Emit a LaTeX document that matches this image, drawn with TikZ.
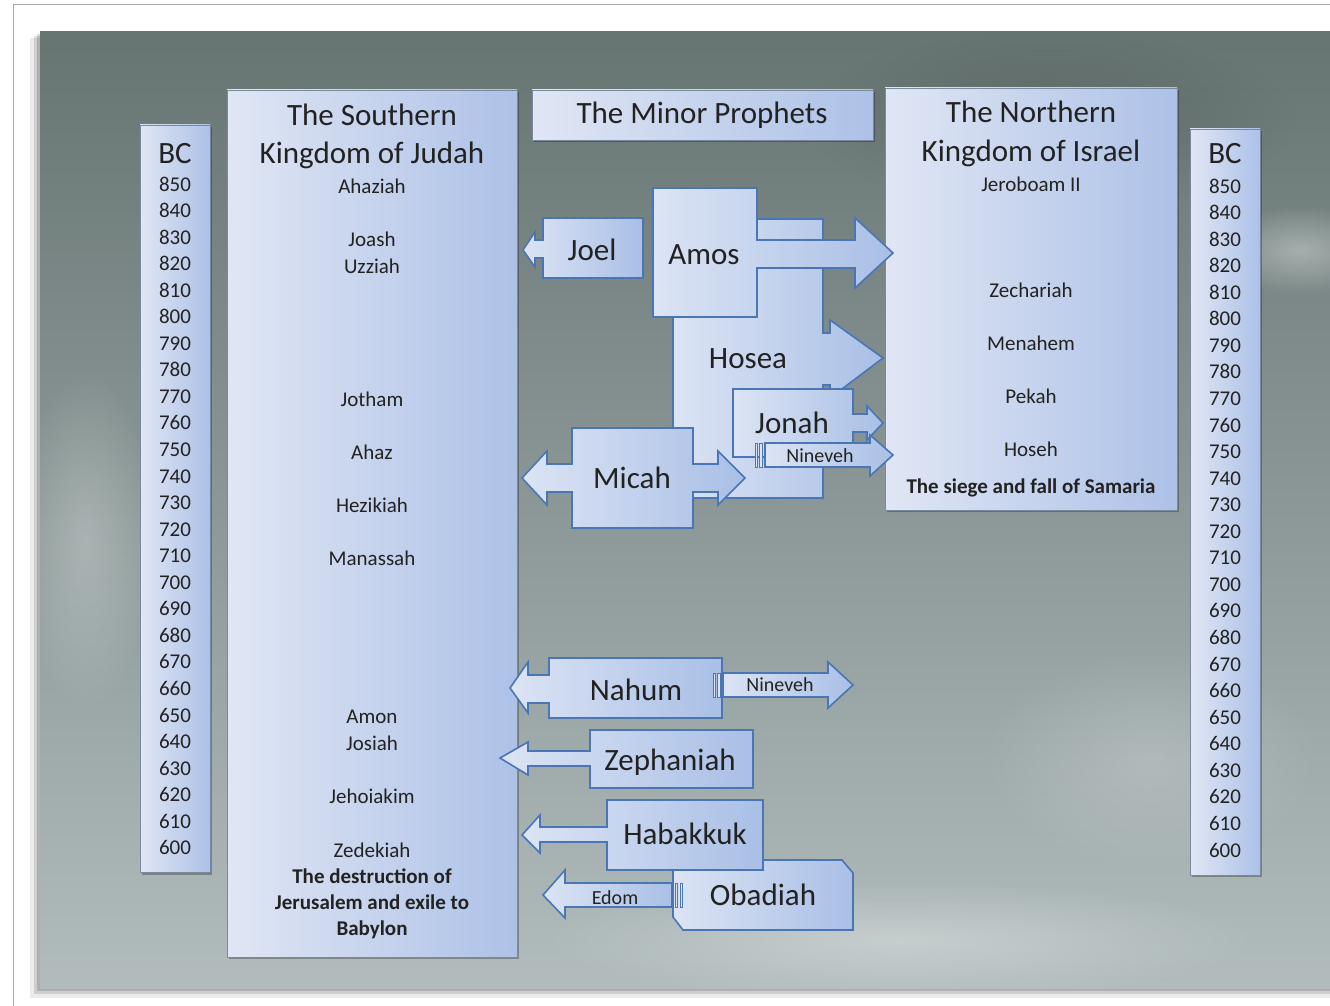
\documentclass[tikz,border=0pt]{standalone}
\usepackage{fontspec}
\setmainfont{Carlito}
\usetikzlibrary{fadings}
\tikzfading[name=softblob, inner color=transparent!0, outer color=transparent!100]
\definecolor{bgT}{HTML}{667472}
\definecolor{bgM}{HTML}{8F9B9B}
\definecolor{bgB}{HTML}{B2BCBD}
\definecolor{colL}{HTML}{E0E6F4}
\definecolor{colR}{HTML}{ADC1E7}
\definecolor{colB}{HTML}{7A8A9E}
\definecolor{callL}{HTML}{DCE4F4}
\definecolor{callR}{HTML}{A9BFE6}
\definecolor{callB}{HTML}{4A76B4}
\definecolor{txt}{HTML}{222222}
\begin{document}
\begin{tikzpicture}[x=1pt,y=-1pt,
  col/.style={draw=colB, line width=0.8pt, left color=colL, right color=colR},
  colshadow/.style={fill=black, opacity=0.28},
  call/.style={draw=callB, line width=1.6pt, line join=miter, left color=callL, right color=callR},
  stripe/.style={draw=callB, line width=0.9pt, fill=callL},
  big/.style={font=\fontsize{31}{36}\selectfont, text=txt, anchor=base, inner sep=0pt},
  nm/.style={font=\fontsize{21}{25}\selectfont, text=txt, anchor=base, inner sep=0pt},
  bnm/.style={font=\fontsize{21}{25}\selectfont\bfseries, text=txt, anchor=base, inner sep=0pt},
  sm/.style={font=\fontsize{20}{24}\selectfont, text=txt, anchor=base, inner sep=0pt}]
\useasboundingbox (0,0) rectangle (1330,1006);
\fill[white] (0,0) rectangle (1330,1006);
\draw[gray!70, line width=1pt] (13,1006) -- (13,5) -- (1330,5);
% slide shadow
\fill[black, opacity=0.08] (30,38) rectangle (1330,998);
\fill[black, opacity=0.12] (34,36) rectangle (1330,994);
\fill[black, opacity=0.15] (37,34) rectangle (1330,991);
% slide background
\shade[top color=bgT, middle color=bgM, bottom color=bgB] (40,32) rectangle (1330,988);
\begin{scope}
\clip (40,32) rectangle (1330,988);
\fill[white, opacity=0.35, path fading=softblob] (1300,250) ellipse (90 and 45);
\fill[white, opacity=0.25, path fading=softblob] (85,540) ellipse (70 and 170);
\fill[white, opacity=0.3, path fading=softblob] (900,940) ellipse (360 and 60);
\fill[white, opacity=0.18, path fading=softblob] (1150,760) ellipse (170 and 110);
\fill[black, opacity=0.12, path fading=softblob] (1050,120) ellipse (250 and 90);
\end{scope}

% columns
\fill[colshadow] (142,127) rectangle (212,875);
\path[col] (140,125) rectangle (210,872);
\fill[colshadow] (229,92) rectangle (519,959);
\path[col] (227,90) rectangle (517,957);
\fill[colshadow] (887,90) rectangle (1179,512);
\path[col] (885,88) rectangle (1177,510);
\fill[colshadow] (1192,131) rectangle (1262,877);
\path[col] (1190,129) rectangle (1260,875);
\fill[colshadow] (534,92) rectangle (875,142);
\path[col] (532,90) rectangle (873,140);

% BC columns text
\node[big] (bcL) at (175,163) {BC};
\foreach \i in {0,...,25}{
  \pgfmathtruncatemacro\yr{850-10*\i}
  \node[nm] (lY\i) at (175,{191+26.55*\i}) {\yr};
}
\node[big] (bcR) at (1225,163) {BC};
\foreach \i in {0,...,25}{
  \pgfmathtruncatemacro\yr{850-10*\i}
  \node[nm] (rY\i) at (1225,{193+26.56*\i}) {\yr};
}

% Southern kingdom
\node[big] (sT1) at (372,125) {The Southern};
\node[big] (sT2) at (372,163) {Kingdom of Judah};
\node[nm] (s1) at (372,193) {Ahaziah};
\node[nm] (s2) at (372,246) {Joash};
\node[nm] (s3) at (372,273) {Uzziah};
\node[nm] (s4) at (372,406) {Jotham};
\node[nm] (s5) at (372,459) {Ahaz};
\node[nm] (s6) at (372,512) {Hezikiah};
\node[nm] (s7) at (372,565) {Manassah};
\node[nm] (s8) at (372,723) {Amon};
\node[nm] (s9) at (372,750) {Josiah};
\node[nm] (s10) at (372,803) {Jehoiakim};
\node[nm] (s11) at (372,857) {Zedekiah};
\node[bnm] (s12) at (372,883) {The destruction of};
\node[bnm] (s13) at (372,909) {Jerusalem and exile to};
\node[bnm] (s14) at (372,935) {Babylon};

% Northern kingdom
\node[big] (nT1) at (1031,123) {The Northern};
\node[big] (nT2) at (1031,161) {Kingdom of Israel};
\node[nm] (n1) at (1031,191) {Jeroboam II};
\node[nm] (n2) at (1031,297) {Zechariah};
\node[nm] (n3) at (1031,350) {Menahem};
\node[nm] (n4) at (1031,403) {Pekah};
\node[nm] (n5) at (1031,456) {Hoseh};
\node[bnm] (n6) at (1031,493) {The siege and fall of Samaria};

% title
\node[big] (title) at (702,124) {The Minor Prophets};

% Joel
\path[call] (643,218) -- (543,218) -- (543,240) -- (535,240) -- (535,232) -- (523,250) -- (535,267) -- (535,258) -- (543,258) -- (543,278) -- (643,278) -- cycle;
\node[big] (joel) at (592,260) {Joel};
% Hosea
\path[call] (673,219) -- (823,219) -- (823,333) -- (830,333) -- (830,320) -- (883,358) -- (830,398) -- (830,385) -- (823,385) -- (823,498) -- (673,498) -- cycle;
\node[big] (hosea) at (748,368) {Hosea};
% Amos
\path[call] (653,188) -- (757,188) -- (757,240) -- (855,240) -- (855,218) -- (893,253) -- (855,288) -- (855,268) -- (757,268) -- (757,317) -- (653,317) -- cycle;
\node[big] (amos) at (704,264) {Amos};
% Jonah
\path[call] (733,389) -- (853,389) -- (853,414) -- (867,414) -- (867,406) -- (883,423) -- (867,440) -- (867,432) -- (853,432) -- (853,457) -- (733,457) -- cycle;
\node[big] (jonah) at (792,433) {Jonah};
% Nineveh (Jonah)
\path[call] (765,443) -- (870,443) -- (870,435) -- (893,455) -- (870,476) -- (870,467) -- (765,467) -- cycle;
\path[stripe] (755,443) rectangle (757.5,467);
\path[stripe] (759.5,443) rectangle (762,467);
\node[sm] (nin1) at (820,462) {Nineveh};
% Micah
\path[call] (572,428) -- (693,428) -- (693,464) -- (718,464) -- (718,451) -- (745,478) -- (718,505) -- (718,492) -- (693,492) -- (693,528) -- (572,528) -- (572,492) -- (547,492) -- (547,505) -- (522,478) -- (547,451) -- (547,464) -- (572,464) -- cycle;
\node[big] (micah) at (632,488) {Micah};
% Nahum
\path[call] (722,658) -- (722,718) -- (549,718) -- (549,703) -- (528,703) -- (528,713) -- (510,688) -- (528,662) -- (528,675) -- (549,675) -- (549,658) -- cycle;
\node[big] (nahum) at (636,700) {Nahum};
% Nineveh (Nahum)
\path[call] (723,673) -- (828,673) -- (828,662) -- (853,685) -- (828,708) -- (828,697) -- (723,697) -- cycle;
\path[stripe] (713,673) rectangle (715.5,697);
\path[stripe] (717.5,673) rectangle (720,697);
\node[sm] (nin2) at (780,691) {Nineveh};
% Zephaniah
\path[call] (753,730) -- (753,788) -- (590,788) -- (590,766) -- (528,766) -- (528,775) -- (500,758) -- (528,742) -- (528,751) -- (590,751) -- (590,730) -- cycle;
\node[big] (zeph) at (670,770) {Zephaniah};
% Obadiah
\path[call] (673,860) -- (842,860) -- (853,873) -- (853,930) -- (683,930) -- (673,917) -- cycle;
\node[big] (obad) at (763,905) {Obadiah};
% Edom
\path[call] (672,883) -- (565,883) -- (565,870) -- (543,895) -- (565,918) -- (565,907) -- (672,907) -- cycle;
\path[stripe] (675,883) rectangle (677.5,907);
\path[stripe] (680,883) rectangle (682.5,907);
\node[sm] (edom) at (615,904) {Edom};
% Habakkuk
\path[call] (763,800) -- (763,870) -- (607,870) -- (607,842) -- (540,842) -- (540,853) -- (522,835) -- (540,815) -- (540,827) -- (607,827) -- (607,800) -- cycle;
\node[big] (habak) at (685,844) {Habakkuk};
\end{tikzpicture}
\end{document}
